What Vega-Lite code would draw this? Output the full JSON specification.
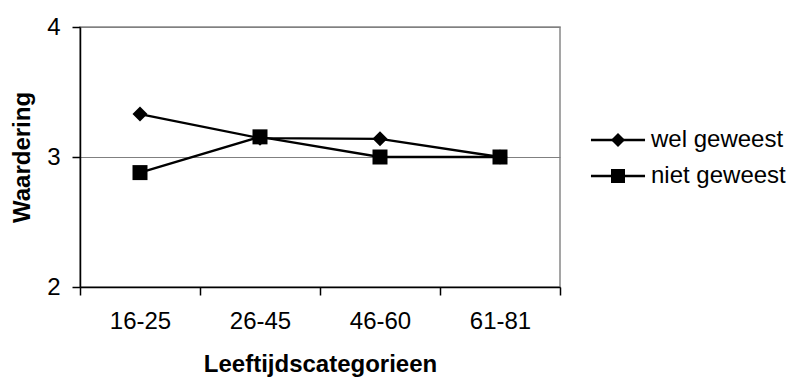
{
  "$schema": "https://vega.github.io/schema/vega-lite/v6.json",
  "width": 480,
  "height": 260,
  "autosize": {"type": "none"},
  "padding": {"left": 80, "top": 27, "right": 232, "bottom": 91},
  "background": "white",
  "config": {
    "font": "Liberation Sans",
    "view": {"stroke": "#888888", "strokeWidth": 1.5}
  },
  "data": {
    "values": [
      {"leeftijd": "16-25", "groep": "wel geweest", "reeks": "wel geweest", "waardering": 3.33},
      {"leeftijd": "26-45", "groep": "wel geweest", "reeks": "wel geweest", "waardering": 3.145},
      {"leeftijd": "46-60", "groep": "wel geweest", "reeks": "wel geweest", "waardering": 3.14},
      {"leeftijd": "61-81", "groep": "wel geweest", "reeks": "wel geweest", "waardering": 3.0},
      {"leeftijd": "16-25", "groep": "niet geweest", "reeks": "niet geweest", "waardering": 2.88},
      {"leeftijd": "26-45", "groep": "niet geweest", "reeks": "niet geweest", "waardering": 3.155},
      {"leeftijd": "46-60", "groep": "niet geweest", "reeks": "niet geweest", "waardering": 3.0},
      {"leeftijd": "61-81", "groep": "niet geweest", "reeks": "niet geweest", "waardering": 3.0}
    ]
  },
  "encoding": {
    "x": {
      "field": "leeftijd",
      "type": "nominal",
      "sort": ["16-25", "26-45", "46-60", "61-81"],
      "scale": {"paddingInner": 0, "paddingOuter": 0},
      "axis": {
        "title": "Leeftijdscategorieen",
        "labelAngle": 0,
        "tickBand": "extent",
        "tickSize": 8,
        "tickColor": "black",
        "tickWidth": 1.5,
        "domainColor": "black",
        "domainWidth": 1.5,
        "labelPadding": 14,
        "labelFontSize": 24,
        "labelColor": "black",
        "titleFontSize": 24,
        "titleFontWeight": "bold",
        "titleColor": "black",
        "titlePadding": 19,
        "grid": false
      }
    },
    "y": {
      "field": "waardering",
      "type": "quantitative",
      "scale": {"domain": [2, 4], "nice": false, "zero": false},
      "axis": {
        "title": "Waardering",
        "values": [2, 3, 4],
        "format": ".0f",
        "labelOverlap": false,
        "tickSize": 8,
        "tickColor": "black",
        "tickWidth": 1.5,
        "domainColor": "black",
        "domainWidth": 1.5,
        "labelPadding": 12,
        "labelFontSize": 24,
        "labelColor": "black",
        "titleFontSize": 24,
        "titleFontWeight": "bold",
        "titleColor": "black",
        "titlePadding": 12,
        "grid": true,
        "gridColor": "#808080",
        "gridWidth": 1
      }
    }
  },
  "layer": [
    {
      "mark": {"type": "line", "strokeWidth": 2.3},
      "encoding": {
        "color": {
          "field": "reeks",
          "type": "nominal",
          "sort": ["wel geweest", "niet geweest"],
          "scale": {"range": ["black", "black"]},
          "legend": {
            "orient": "none",
            "legendX": 526,
            "legendY": 101,
            "title": null,
            "padding": 0,
            "labelFontSize": 24,
            "labelColor": "transparent",
            "labelOffset": 21,
            "symbolType": "M-3.86,0H3.86",
            "symbolSize": 196,
            "symbolStrokeColor": "black",
            "symbolStrokeWidth": 2.3,
            "rowPadding": 12
          }
        }
      }
    },
    {
      "mark": {"type": "point", "filled": true, "opacity": 1, "color": "black"},
      "encoding": {
        "shape": {
          "field": "groep",
          "type": "nominal",
          "sort": ["wel geweest", "niet geweest"],
          "scale": {"domain": ["wel geweest", "niet geweest"], "range": ["diamond", "square"]},
          "legend": {
            "orient": "none",
            "legendX": 526,
            "legendY": 101,
            "title": null,
            "padding": 0,
            "labelFontSize": 24,
            "labelColor": "black",
            "labelOffset": 21,
            "symbolSize": 196,
            "symbolFillColor": "black",
            "rowPadding": 12
          }
        },
        "size": {
          "condition": {"test": "datum.groep === 'wel geweest'", "value": 225},
          "value": 225
        }
      }
    }
  ]
}
